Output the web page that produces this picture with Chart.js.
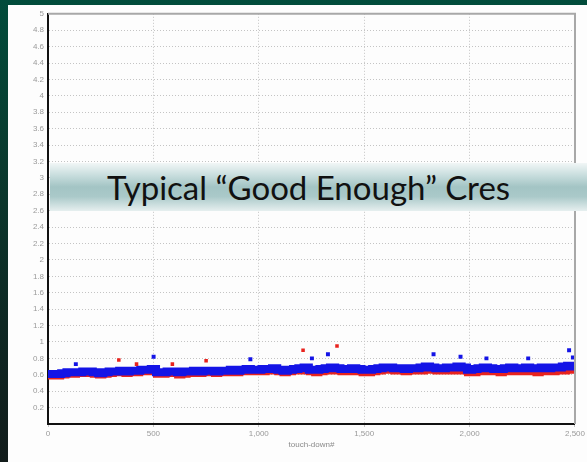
<!DOCTYPE html>
<html>
<head>
<meta charset="utf-8">
<script src="https://cdn.jsdelivr.net/npm/chart.js@4/dist/chart.umd.min.js"></script>
<style>
  html, body { margin: 0; padding: 0; }
  body {
    width: 587px; height: 462px; overflow: hidden; position: relative;
    background: linear-gradient(to bottom, #014c3b 0%, #0a3a2e 35%, #0e2823 70%, #121c1b 100%);
  }
  #panel { position: absolute; left: 8px; top: 5px; width: 579px; height: 457px; background: #fdfdfd; }
  #banner {
    position: absolute; left: 50px; top: 163px; width: 537px; height: 48px;
    background: linear-gradient(to bottom, #f1f6f6 0%, #c9dede 25%, #a3c4c4 50%, #aac9c9 70%, #e6efef 100%);
    font-family: Lato, "Open Sans", sans-serif; font-size: 33px; color: #111;
    line-height: 48px; box-sizing: border-box; padding-left: 57px; white-space: nowrap;
  }
</style>
</head>
<body>
<div id="panel"><canvas id="crestChart" width="579" height="457"></canvas></div>
<div id="banner">Typical “Good Enough” Cres</div>
<script>
/* sampling grid for the dense bands (every 25 touch-downs) */
const sampleStep = 25;
const touchdowns = Array.from({ length: 101 }, (_, i) => i * sampleStep);

/* blue band centre */
const blueBand = [
    0.61, 0.61, 0.61, 0.62, 0.63, 0.63, 0.63, 0.64, 0.64, 0.63,
    0.62, 0.63, 0.64, 0.64, 0.65, 0.64, 0.65, 0.65, 0.66, 0.66,
    0.67, 0.63, 0.63, 0.64, 0.64, 0.63, 0.64, 0.64, 0.65, 0.64,
    0.65, 0.65, 0.64, 0.65, 0.65, 0.66, 0.65, 0.66, 0.67, 0.66,
    0.66, 0.67, 0.67, 0.68, 0.66, 0.65, 0.66, 0.67, 0.68, 0.69,
    0.66, 0.66, 0.67, 0.68, 0.69, 0.68, 0.67, 0.67, 0.68, 0.67,
    0.66, 0.66, 0.67, 0.68, 0.69, 0.69, 0.68, 0.68, 0.67, 0.68,
    0.68, 0.69, 0.70, 0.69, 0.68, 0.68, 0.69, 0.69, 0.70, 0.69,
    0.66, 0.67, 0.68, 0.69, 0.68, 0.67, 0.67, 0.68, 0.69, 0.68,
    0.68, 0.69, 0.68, 0.68, 0.69, 0.68, 0.69, 0.69, 0.70, 0.71,
    0.70,
];

/* red band centre (sits slightly under the blue one) */
const redBand = [
    0.59, 0.58, 0.58, 0.59, 0.60, 0.60, 0.61, 0.61, 0.61, 0.60,
    0.59, 0.60, 0.61, 0.62, 0.62, 0.61, 0.62, 0.62, 0.63, 0.63,
    0.64, 0.60, 0.60, 0.61, 0.61, 0.59, 0.60, 0.61, 0.62, 0.61,
    0.62, 0.62, 0.61, 0.62, 0.62, 0.63, 0.62, 0.63, 0.64, 0.63,
    0.63, 0.63, 0.64, 0.64, 0.63, 0.62, 0.63, 0.64, 0.64, 0.65,
    0.63, 0.62, 0.63, 0.64, 0.65, 0.64, 0.63, 0.63, 0.64, 0.63,
    0.62, 0.62, 0.63, 0.64, 0.65, 0.65, 0.64, 0.64, 0.63, 0.64,
    0.64, 0.64, 0.65, 0.65, 0.64, 0.64, 0.65, 0.64, 0.65, 0.64,
    0.62, 0.62, 0.63, 0.64, 0.63, 0.63, 0.62, 0.63, 0.64, 0.63,
    0.63, 0.64, 0.63, 0.62, 0.63, 0.63, 0.63, 0.64, 0.64, 0.65,
    0.65,
];

/* isolated outliers */
const blueOutX = [132, 501, 960, 1252, 1328, 1829, 1957, 2080, 2278, 2472, 2490];
const blueOutY = [0.73, 0.82, 0.79, 0.80, 0.85, 0.85, 0.82, 0.80, 0.80, 0.90, 0.81];
const redOutX  = [336, 420, 590, 750, 1210, 1371];
const redOutY  = [0.78, 0.73, 0.73, 0.77, 0.90, 0.95];

const xTicks = [0, 500, 1000, 1500, 2000, 2500];

const tickFont = { family: 'Liberation Sans, Arial, sans-serif', size: 8 };
const tickColor = '#9a9a9a';
const blue = '#1414e6';
const red = '#e8231e';

const toPts = (xs, ys) => xs.map((x, i) => ({ x, y: ys[i] }));

/* grey frame on top / right of the plot */
const frame = {
    id: 'frame',
    afterDraw(chart) {
        const { ctx, chartArea: a } = chart;
        ctx.save();
        ctx.strokeStyle = '#a8a8a8';
        ctx.lineWidth = 2;
        ctx.beginPath();
        ctx.moveTo(a.left, a.top);
        ctx.lineTo(a.right, a.top);
        ctx.lineTo(a.right, a.bottom);
        ctx.stroke();
        ctx.restore();
    },
};

new Chart(document.getElementById('crestChart'), {
    type: 'line',
    data: {
        labels: touchdowns,
        datasets: [
            { label: 'blue outliers', type: 'scatter', data: toPts(blueOutX, blueOutY),
              pointStyle: 'rect', pointRadius: 2.8, backgroundColor: blue, borderColor: blue, borderWidth: 0 },
            { label: 'red outliers', type: 'scatter', data: toPts(redOutX, redOutY),
              pointStyle: 'rect', pointRadius: 2.5, backgroundColor: red, borderColor: red, borderWidth: 0 },
            { label: 'blue', data: blueBand, borderColor: blue, borderWidth: 8,
              stepped: 'middle', pointRadius: 0, fill: false },
            { label: 'red', data: redBand, borderColor: red, borderWidth: 6,
              stepped: 'middle', pointRadius: 0, fill: false },
        ],
    },
    options: {
        responsive: false,
        animation: false,
        locale: 'en-US',
        layout: { padding: { top: 5, right: 10, left: 0, bottom: 0 } },
        plugins: { legend: { display: false }, tooltip: { enabled: false } },
        scales: {
            x: {
                type: 'linear',
                min: 0, max: 2500,
                afterBuildTicks: s => { s.ticks = xTicks.map(v => ({ value: v })); },
                afterFit: s => { s.height = 38; },
                ticks: { color: tickColor, font: tickFont, padding: 2, maxRotation: 0 },
                grid: { color: '#c4c4c4', tickLength: 3, drawTicks: true },
                border: { color: '#111', width: 2, dash: [1, 2] },
                title: { display: true, text: 'touch-down#', color: '#8a8a8a', font: tickFont, padding: { top: 0, bottom: 12 } },
            },
            y: {
                min: 0, max: 5,
                afterFit: s => { s.width = 40; },
                ticks: {
                    stepSize: 0.2, autoSkip: false, color: tickColor, font: tickFont, padding: 4,
                    callback: v => (v === 0 ? '' : String(Number(v.toFixed(1)))),
                },
                grid: { color: '#c4c4c4', drawTicks: false },
                border: { color: '#111', width: 2, dash: [1, 2] },
            },
        },
    },
    plugins: [frame],
});
</script>
</body>
</html>
